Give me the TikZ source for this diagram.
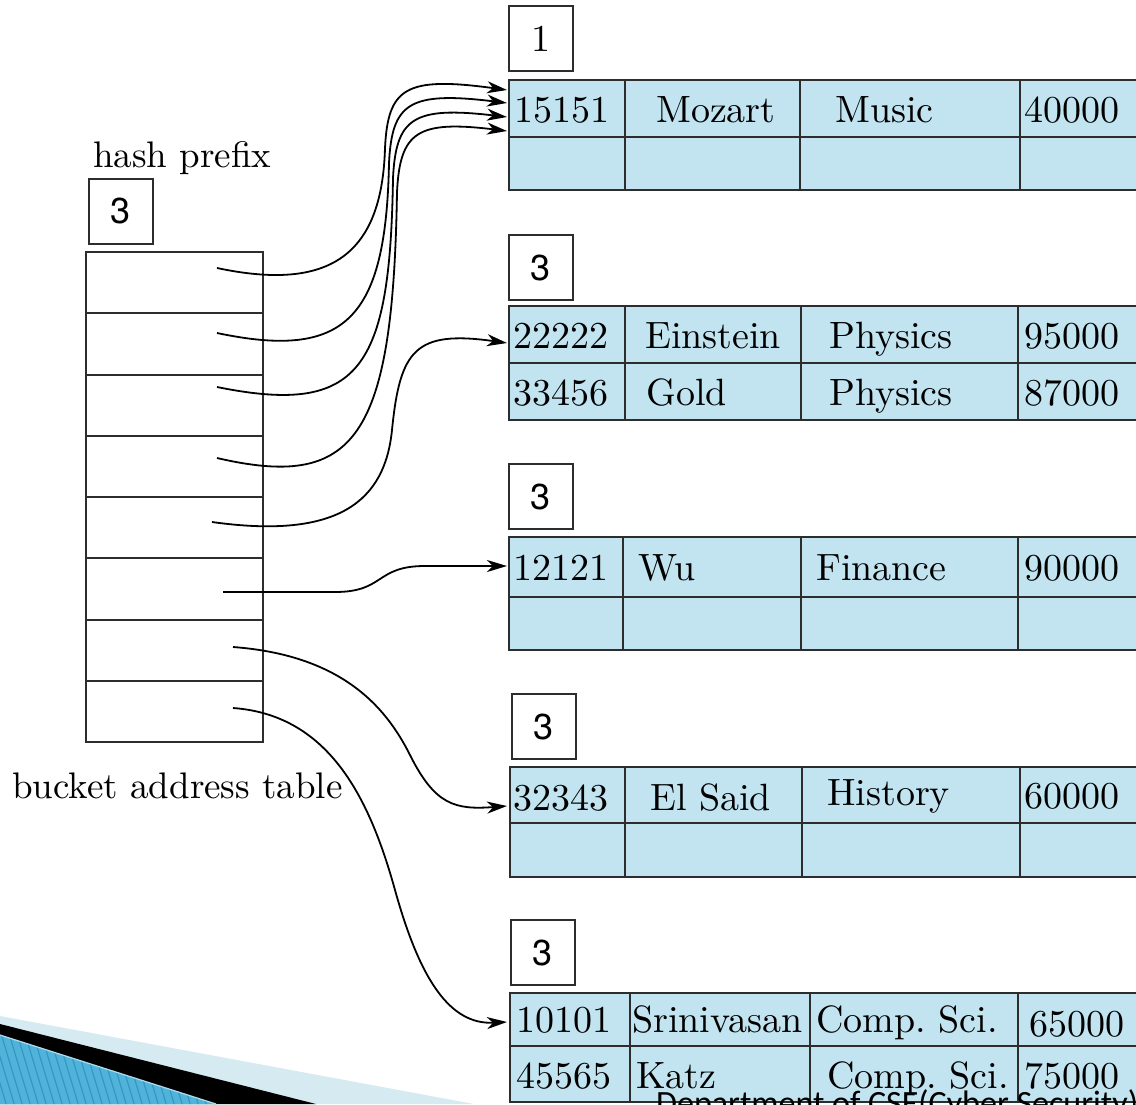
\documentclass[tikz,border=0pt]{standalone}
\usepackage{fontspec}
\setmainfont{lmroman10-regular.otf}
\newfontfamily\heros{TeX Gyre Heros}
\newfontfamily\carlito{Carlito}
\usetikzlibrary{arrows.meta}

\definecolor{bucketfill}{RGB}{193,228,240}
\definecolor{gridgrey}{RGB}{45,45,45}
\definecolor{bandlight}{RGB}{214,234,242}
\definecolor{bandblue}{RGB}{80,180,218}
\definecolor{stripeblue}{RGB}{55,150,195}

\begin{document}
\begin{tikzpicture}[x=1pt,y=-1pt,>={Stealth[length=20pt,width=12pt,inset=6pt]},
    gridpen/.style={draw=gridgrey,line width=2pt},
    txt/.style={font=\fontsize{38}{40}\selectfont,inner sep=0pt,anchor=base west},
    lbl/.style={font=\fontsize{37}{40}\selectfont,inner sep=0pt,anchor=base west},
    depthbox/.style={gridpen,fill=white,minimum width=64pt,minimum height=65pt,inner sep=0pt,
        anchor=north west,font=\heros\fontsize{36}{40}\selectfont},
    hashcell/.style={gridpen,minimum width=177pt,minimum height=61.25pt,inner sep=0pt},
    ptr/.style={->,line width=1.8pt}]
    \useasboundingbox (0,0) rectangle (1136,1104);
    \begin{scope}
    \clip (0,0) rectangle (1136,1104);

    % Slide decoration, bottom left
    \fill[bandlight] (0,1016) -- (474,1104) -- (0,1104) -- cycle;
    \fill[black] (0,1024) -- (316,1104) -- (0,1104) -- cycle;
    \fill[bandblue] (0,1035) -- (216,1104) -- (0,1104) -- cycle;
    \begin{scope}
        \clip (0,1035) -- (216,1104) -- (0,1104) -- cycle;
        \foreach \k in {-12,...,30}
            \draw[stripeblue,line width=1.2pt] (\k*8,1030) -- ++(27,90);
    \end{scope}
    \draw[white!55!bandblue,line width=1.2pt] (0,1035) -- (216,1104);

    % Hash prefix and bucket address table
    \node[lbl] (hp) at (93,167) {hash prefix};
    \node[depthbox] (gd) at (88,178) {3};
    \foreach \i in {1,...,8}
        \node[hashcell] (h\i) at (174.5,{252+61.25*(\i-0.5)}) {};
    \node[lbl] (bat) at (12,798) {bucket address table};

    % Buckets (left, top, middle, bottom, column lines)
    \foreach \l/\t/\m/\b/\ca/\cb/\cc in {509/80/137/190/625/800/1020,
            509/306/363/420/625/801/1018, 509/537/597/650/623/801/1018,
            510/767/823/877/625/802/1020, 510/993/1046/1102/630/810/1018}{
        \fill[bucketfill] (\l,\t) rectangle (1145,\b);
        \draw[gridpen] (1145,\t) -- (\l,\t) -- (\l,\b) -- (1145,\b)
            (\l,\m) -- (1145,\m) (\ca,\t) -- (\ca,\b) (\cb,\t) -- (\cb,\b) (\cc,\t) -- (\cc,\b);
    }

    % Local depths
    \node[depthbox,font=\fontsize{38}{40}\selectfont] (d1) at (508,5) {1};
    \node[depthbox] (d2) at (508,234) {3};
    \node[depthbox] (d3) at (508,463) {3};
    \node[depthbox] (d4) at (511,693) {3};
    \node[depthbox] (d5) at (510,919) {3};

    % Records
    \node[txt] (b1id) at (514,122) {15151};
    \node[txt] (b1nm) at (656,122) {Mozart};
    \node[txt] (b1dp) at (835,122) {Music};
    \node[txt] (b1sl) at (1024,122) {40000};

    \node[txt] (b2id) at (513,348) {22222};
    \node[txt] (b2nm) at (645,348) {Einstein};
    \node[txt] (b2dp) at (829,348) {Physics};
    \node[txt] (b2sl) at (1024,348) {95000};
    \node[txt] (b2idb) at (513,405) {33456};
    \node[txt] (b2nmb) at (646,405) {Gold};
    \node[txt] (b2dpb) at (829,405) {Physics};
    \node[txt] (b2slb) at (1024,405) {87000};

    \node[txt] (b3id) at (513,580) {12121};
    \node[txt] (b3nm) at (638,580) {Wu};
    \node[txt] (b3dp) at (816,580) {Finance};
    \node[txt] (b3sl) at (1024,580) {90000};

    \node[txt] (b4id) at (513,810) {32343};
    \node[txt] (b4nm) at (650,810) {El Said};
    \node[txt] (b4dp) at (827,805) {History};
    \node[txt] (b4sl) at (1024,808) {60000};

    \node[txt] (b5id) at (516,1032) {10101};
    \node[txt] (b5nm) at (632,1032) {Srinivasan};
    \node[txt] (b5dp) at (816,1032) {Comp.\ Sci.};
    \node[txt] (b5sl) at (1029,1036) {65000};
    \node[txt] (b5idb) at (516,1088) {45565};
    \node[txt] (b5nmb) at (636,1088) {Katz};
    \node[txt] (b5dpb) at (827,1088) {Comp.\ Sci.};
    \node[txt] (b5slb) at (1024,1088) {75000};

    % Pointer ends
    \coordinate (s1) at (217,268);
    \coordinate (s2) at (217,333);
    \coordinate (s3) at (217,387);
    \coordinate (s4) at (217,458);
    \coordinate (s5) at (212,522);
    \coordinate (s6) at (223,592);
    \coordinate (s7) at (233,647);
    \coordinate (s8) at (233,708);
    \coordinate (e1) at (507,90);
    \coordinate (e2) at (507,103);
    \coordinate (e3) at (507,117);
    \coordinate (e4) at (507,131);
    \coordinate (e5) at (507,343);
    \coordinate (e6) at (507,566);
    \coordinate (e7) at (507,806);
    \coordinate (e8) at (507,1022);

    % Pointers
    \draw[ptr] (s1) .. controls (330,292) and (382,255) .. (385,148)
        .. controls (388,88) and (405,76) .. (e1);
    \draw[ptr] (s2) .. controls (345,360) and (386,320) .. (389,163)
        .. controls (392,103) and (409,91) .. (e2);
    \draw[ptr] (s3) .. controls (360,416) and (390,370) .. (393,178)
        .. controls (396,118) and (413,106) .. (e3);
    \draw[ptr] (s4) .. controls (355,490) and (393,440) .. (397,192)
        .. controls (400,132) and (417,120) .. (e4);
    \draw[ptr] (s5) .. controls (340,540) and (385,500) .. (392,430)
        .. controls (400,350) and (415,330) .. (e5);
    \draw[ptr] (s6) -- (335,592) .. controls (385,592) and (375,566) .. (425,566) -- (e6);
    \draw[ptr] (s7) .. controls (340,655) and (385,705) .. (410,755)
        .. controls (435,805) and (455,810) .. (e7);
    \draw[ptr] (s8) .. controls (330,715) and (370,800) .. (395,890)
        .. controls (420,980) and (450,1025) .. (e8);

    % Footer
    \node[font=\carlito\fontsize{34}{36}\selectfont,inner sep=0pt,anchor=base west] (dept)
        at (656,1114) {Department of CSE(Cyber Security)};
    \end{scope}
\end{tikzpicture}
\end{document}
